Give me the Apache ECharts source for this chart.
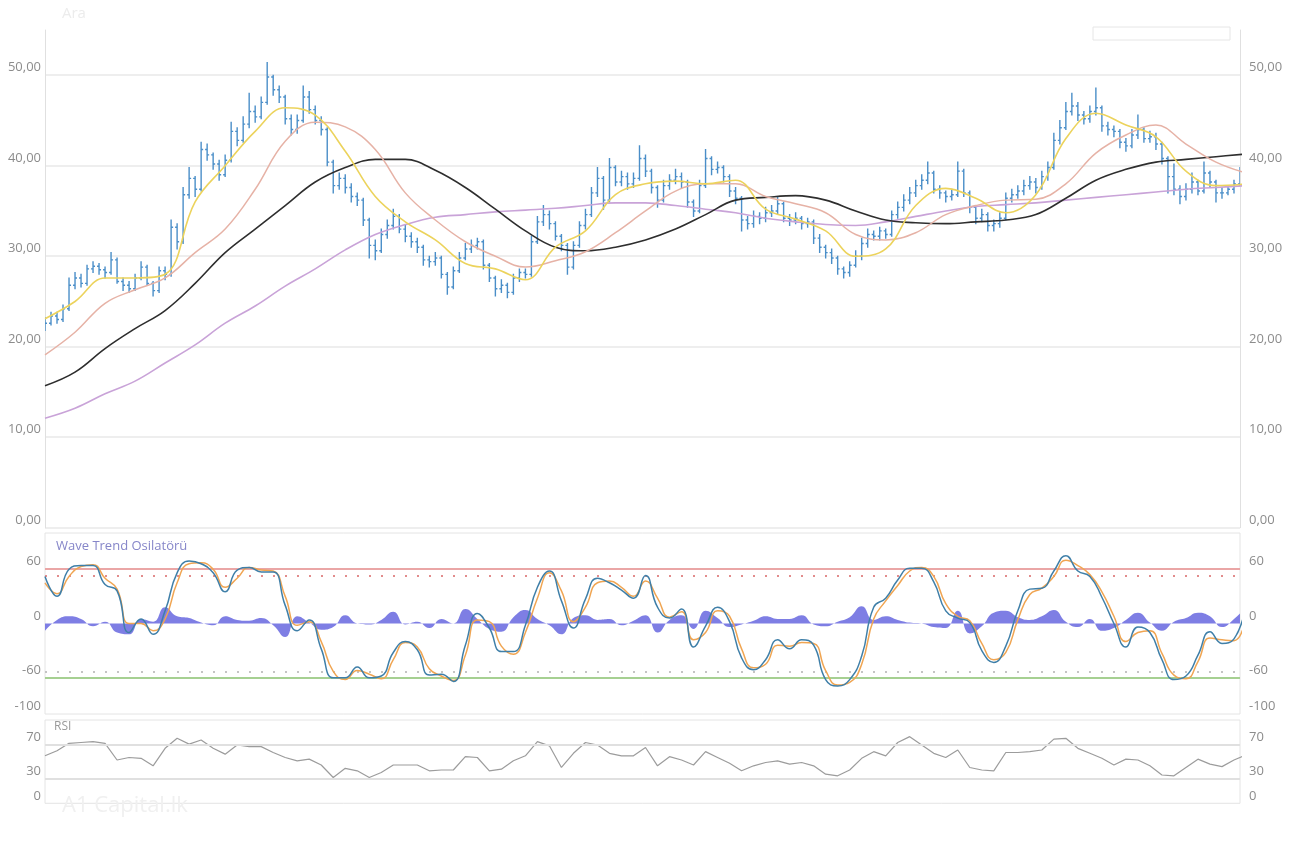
<!DOCTYPE html>
<html><head><meta charset="utf-8">
<script src="https://cdn.jsdelivr.net/npm/echarts@6/dist/echarts.min.js"></script>
<style>html,body{margin:0;padding:0;background:#fff;}#c{width:1291px;height:851px;}</style>
</head><body><div id="c"></div>
<script>
// daily bars: [open, close, low, high]
const ohlc = [
[22.2,22.6,21.8,23.2],[22.6,23.4,22.4,23.8],[23.4,23.0,22.6,23.8],[23.0,24.2,22.8,24.6],[24.2,26.8,24.0,27.6],
[26.8,27.6,26.4,28.2],[27.6,27.0,26.6,28.0],[27.0,28.6,26.8,29.0],[28.6,28.9,28.2,29.4],[28.9,28.5,28.0,29.2],
[28.5,28.2,27.6,28.8],[28.2,29.6,28.0,30.4],[29.6,27.2,27.0,29.8],[27.2,26.8,26.2,27.6],[26.8,26.4,26.0,27.2],
[26.4,27.6,26.2,28.0],[27.6,28.8,27.4,29.4],[28.8,27.0,26.8,29.0],[27.0,26.2,25.6,27.2],[26.2,28.4,26.0,28.8],
[28.4,28.0,27.4,28.8],[28.0,33.2,27.8,34.0],[33.2,31.6,30.8,33.6],[31.6,36.8,31.4,37.6],[36.8,38.6,36.4,39.8],
[38.6,37.4,36.6,38.8],[37.4,41.8,37.2,42.6],[41.8,41.2,40.6,42.4],[41.2,40.2,39.6,41.4],[40.2,39.0,38.4,40.6],
[39.0,40.6,38.8,41.2],[40.6,43.8,40.4,44.8],[43.8,42.8,42.2,44.2],[42.8,44.6,42.6,45.4],[44.6,46.0,44.2,48.0],
[46.0,45.4,44.8,46.6],[45.4,47.0,45.2,47.6],[47.0,49.8,46.8,51.4],[49.8,48.4,47.8,50.0],[48.4,47.6,47.0,48.8],
[47.6,45.2,44.6,47.8],[45.2,44.0,43.4,45.6],[44.0,45.0,43.6,45.6],[45.0,47.6,44.8,48.8],[47.6,46.2,45.8,48.2],
[46.2,45.0,44.6,46.6],[45.0,44.0,43.4,45.4],[44.0,40.4,40.0,44.2],[40.4,37.8,37.0,40.6],[37.8,38.6,37.4,39.2],
[38.6,37.6,37.0,39.0],[37.6,36.6,36.0,38.0],[36.6,36.2,35.6,37.0],[36.2,34.0,33.4,36.4],[34.0,31.2,29.8,34.2],
[31.2,30.6,29.6,31.8],[30.6,32.4,30.4,33.0],[32.4,33.4,32.0,34.0],[33.4,34.4,33.0,35.2],[34.4,33.0,32.6,34.6],
[33.0,32.2,31.6,33.4],[32.2,31.6,31.0,32.6],[31.6,31.0,30.4,32.0],[31.0,29.6,29.0,31.2],[29.6,29.4,28.8,30.0],
[29.4,29.8,29.0,30.4],[29.8,28.0,27.6,30.0],[28.0,26.6,25.8,28.2],[26.6,28.4,26.4,28.8],[28.4,29.8,28.2,30.4],
[29.8,30.8,29.6,31.4],[30.8,31.2,30.4,31.8],[31.2,31.6,30.8,32.0],[31.6,29.0,28.6,31.8],[29.0,27.6,27.2,29.2],
[27.6,26.4,25.6,27.8],[26.4,26.8,26.0,27.4],[26.8,26.0,25.4,27.0],[26.0,27.6,25.8,28.0],[27.6,28.2,27.2,28.6],
[28.2,28.0,27.6,28.6],[28.0,31.6,27.8,32.2],[31.6,33.8,31.4,34.4],[33.8,34.6,33.4,35.6],[34.6,33.6,33.0,35.0],
[33.6,32.2,31.8,33.8],[32.2,31.2,30.6,32.4],[31.2,28.8,28.0,31.4],[28.8,31.2,28.6,31.6],[31.2,33.4,31.0,33.8],
[33.4,34.6,33.0,35.2],[34.6,37.0,34.4,37.6],[37.0,38.6,36.6,39.8],[38.6,36.2,35.2,38.8],[36.2,39.8,36.0,40.8],
[39.8,38.2,37.8,40.0],[38.2,38.8,37.8,39.4],[38.8,38.0,37.4,39.2],[38.0,38.6,37.6,39.2],[38.6,40.8,38.4,42.2],
[40.8,39.4,38.8,41.2],[39.4,37.6,37.0,39.6],[37.6,36.2,35.4,37.8],[36.2,37.8,36.0,38.4],[37.8,38.4,37.4,39.0],
[38.4,38.8,38.0,39.6],[38.8,38.2,37.6,39.2],[38.2,36.0,35.4,38.4],[36.0,35.0,34.4,36.2],[35.0,37.8,34.8,38.4],
[37.8,40.8,37.6,41.8],[40.8,39.6,39.0,41.0],[39.6,39.8,39.2,40.4],[39.8,38.8,38.2,40.0],[38.8,37.2,36.6,39.0],
[37.2,36.4,35.8,37.6],[36.4,34.0,32.8,36.6],[34.0,33.6,33.0,34.4],[33.6,34.4,33.2,35.0],[34.4,34.2,33.6,34.8],
[34.2,34.8,33.8,35.4],[34.8,35.0,34.4,35.6],[35.0,35.8,34.6,36.6],[35.8,34.2,33.8,36.0],[34.2,34.0,33.4,34.6],
[34.0,34.2,33.6,34.8],[34.2,33.6,33.0,34.4],[33.6,33.8,33.2,34.2],[33.8,32.0,31.4,34.0],[32.0,31.0,30.4,32.4],
[31.0,30.4,29.8,31.2],[30.4,29.8,29.2,30.8],[29.8,28.6,28.0,30.0],[28.6,28.2,27.6,28.8],[28.2,29.0,27.8,29.4],
[29.0,30.0,28.8,30.6],[30.0,31.4,29.6,32.0],[31.4,32.4,31.0,33.0],[32.4,32.2,31.8,32.8],[32.2,32.8,31.8,33.2],
[32.8,32.4,32.0,33.0],[32.4,34.6,32.2,35.0],[34.6,35.4,34.2,36.0],[35.4,36.2,35.0,36.8],[36.2,37.0,35.8,37.6],
[37.0,37.8,36.6,38.4],[37.8,38.4,37.4,39.0],[38.4,39.2,38.0,40.4],[39.2,37.4,37.0,39.4],[37.4,37.0,36.4,37.8],
[37.0,36.6,36.0,37.2],[36.6,36.8,36.2,37.4],[36.8,39.4,36.6,40.4],[39.4,37.0,36.6,39.6],[37.0,35.4,34.8,37.2],
[35.4,34.2,33.6,35.6],[34.2,34.6,33.8,35.2],[34.6,33.4,32.8,34.8],[33.4,33.6,32.8,34.0],[33.6,34.2,33.2,34.8],
[34.2,36.4,34.0,37.0],[36.4,36.8,36.0,37.4],[36.8,37.2,36.4,37.8],[37.2,37.8,36.8,38.4],[37.8,38.2,37.4,38.8],
[38.2,37.6,37.0,38.6],[37.6,38.8,37.4,39.4],[38.8,39.8,38.4,40.4],[39.8,42.8,39.6,43.6],[42.8,44.2,42.4,45.0],
[44.2,46.0,44.0,47.0],[46.0,46.6,45.6,48.0],[46.6,45.6,45.0,47.0],[45.6,45.2,44.6,46.0],[45.2,46.0,44.8,46.6],
[46.0,46.4,45.6,48.6],[46.4,44.4,43.8,46.6],[44.4,44.0,43.4,44.8],[44.0,43.8,43.2,44.4],[43.8,42.6,42.0,44.0],
[42.6,42.2,41.6,43.0],[42.2,43.4,42.0,44.0],[43.4,44.0,43.0,45.6],[44.0,43.0,42.6,44.2],[43.0,43.2,42.6,43.8],
[43.2,42.4,41.8,43.6],[42.4,40.8,40.2,42.6],[40.8,38.8,37.0,41.0],[38.8,37.4,36.8,40.2],[37.4,36.6,35.8,37.8],
[36.6,37.4,36.2,38.0],[37.4,38.2,37.0,39.2],[38.2,37.2,36.8,38.4],[37.2,39.2,37.0,40.4],[39.2,38.2,37.6,39.4],
[38.2,37.0,36.0,38.4],[37.0,37.0,36.4,37.6],[37.0,37.4,36.8,37.8],[37.4,38.0,37.0,38.4],[38.0,39.2,37.8,39.8]
];
// moving averages, one value every maStep days
const maStep = 5;
const maYellow = [23.1,25.0,27.6,27.6,28.0,36.0,40.0,43.8,46.4,45.6,41.6,36.6,33.8,31.8,29.2,28.6,27.4,31.0,32.8,36.8,38.0,38.3,38.0,38.4,35.2,34.1,32.8,30.0,30.8,35.6,37.5,36.4,34.8,36.8,43.0,45.8,44.5,43.2,39.4,37.8,38.0];
const maPink = [19.1,21.6,24.8,26.3,27.6,30.4,33.0,37.4,42.7,44.8,44.3,41.8,37.0,34.0,31.6,30.0,28.8,29.5,30.5,32.6,35.0,37.2,38.0,38.0,36.6,35.8,34.8,32.4,31.8,32.6,34.6,35.6,36.2,36.3,38.0,41.4,43.4,44.5,42.4,40.4,39.2];
const maBlack = [15.7,17.2,19.8,22.0,24.0,27.0,30.4,33.0,35.6,38.2,39.8,40.7,40.7,39.5,37.6,35.2,32.8,31.0,30.6,31.0,31.8,33.0,34.6,36.2,36.5,36.7,36.2,35.0,34.0,33.7,33.6,33.8,34.0,34.6,36.4,38.4,39.6,40.4,40.7,41.0,41.3];
const maPurple = [12.1,13.2,14.8,16.2,18.2,20.2,22.6,24.5,26.7,28.6,30.7,32.4,33.5,34.3,34.6,34.9,35.1,35.3,35.6,35.9,35.9,35.6,35.2,34.8,34.2,33.8,33.5,33.4,33.8,34.4,35.0,35.5,35.7,35.9,36.2,36.5,36.8,37.1,37.4,37.6,37.8];
// oscillators, one value every oscStep days
const oscStep = 2;
const wt1 = [52,30,60,64,64,43,36,-10,5,-12,14,56,69,66,56,35,59,62,57,57,20,-8,4,-28,-60,-60,-48,-60,-58,-32,-20,-29,-57,-56,-64,-24,11,-5,-31,-31,-2,40,58,25,-5,27,50,45,37,28,53,18,6,16,-26,-3,18,2,-38,-51,-40,-18,-28,-18,-24,-62,-69,-62,-36,18,28,48,61,61,46,14,6,1,-30,-43,-25,14,38,39,58,75,58,52,29,0,-26,-4,-10,-40,-62,-58,-35,-9,-22,-17,20];
const wt2 = [45,33,52,63,65,50,38,0,0,-8,5,45,66,67,60,40,50,62,59,58,30,-2,2,-20,-53,-62,-52,-56,-61,-40,-21,-26,-50,-58,-63,-35,4,2,-25,-34,-10,28,56,36,2,18,45,47,40,30,47,28,7,13,-18,-10,14,8,-28,-49,-45,-24,-25,-21,-22,-52,-68,-65,-45,5,25,42,58,62,52,22,8,3,-22,-40,-32,4,32,39,52,70,64,54,35,8,-20,-10,-8,-33,-57,-61,-42,-16,-18,-19,8];
const wtHist = [-8,4,8,5,-3,2,-10,-12,5,2,18,8,6,1,-2,8,4,3,6,-2,-15,8,1,-7,-4,9,0,-1,4,13,-1,2,-5,5,0,16,5,-6,-9,7,15,5,-2,-12,6,9,4,5,-2,3,9,-10,4,9,-6,14,6,-4,-1,3,8,5,5,9,-1,-3,2,7,19,4,8,4,1,0,-4,-5,14,-11,-3,12,14,7,4,8,15,2,-4,5,-8,-5,4,12,1,-8,2,6,12,8,-4,5,18];
const rsi = [57,63,72,73,74,72,52,55,54,45,66,78,71,76,66,59,70,68,68,61,55,51,53,46,31,42,39,31,37,46,46,46,39,40,40,56,55,39,41,51,57,74,69,43,60,73,70,60,57,57,67,45,56,52,46,62,55,48,39,45,49,51,47,49,45,35,33,40,54,62,57,73,80,70,60,55,64,43,40,39,61,61,62,64,77,78,66,60,54,46,53,52,45,34,33,43,53,47,44,52,58];
// axis ticks and levels
const priceTicks = [0,10,20,30,40,50];
const wtTicks = [60,0,-60,-100];
const rsiTicks = [70,30,0];
const wtLevels = [60,53,-53,-60];
const rsiLevels = [70,30];

const lastDay = ohlc.length - 1;
const bars = ohlc.map((q,i)=>[i,q[0],q[1],q[2],q[3]]);
const stepped = (arr, step) => arr.map((v,i)=>[i*step, v]);

const chart = echarts.init(document.getElementById('c'), null, {renderer:'canvas'});
const lblColor = '#8c8c8c';
const FONT = '"Open Sans", "DejaVu Sans", sans-serif';
const priceFmt = v => priceTicks.includes(v) ? v.toFixed(2).replace('.', ',') : '';
const pick = list => v => list.includes(v) ? String(v) : '';
const BAR = '#4a8ec8';

function renderOhlc(params, api) {
  const x = api.value(0);
  const o = api.coord([x, api.value(1)]);
  const c = api.coord([x, api.value(2)]);
  const l = api.coord([x, api.value(3)]);
  const h = api.coord([x, api.value(4)]);
  const st = {stroke: BAR, lineWidth: 1.4};
  return {type:'group', children:[
    {type:'line', shape:{x1:l[0], y1:l[1]+0.5, x2:h[0], y2:h[1]-0.5}, style:st},
    {type:'line', shape:{x1:o[0]-2, y1:o[1], x2:o[0], y2:o[1]}, style:st},
    {type:'line', shape:{x1:c[0], y1:c[1], x2:c[0]+2, y2:c[1]}, style:st}
  ]};
}

function yAx(grid, pos, min, max, interval, fmt, opts) {
  return Object.assign({
    gridIndex: grid, type: 'value', position: pos, min, max, interval,
    axisTick: {show:false},
    axisLine: {show:false},
    splitLine: {show:false},
    axisLabel: {formatter: fmt, color: lblColor, fontSize: 13, fontFamily: FONT,
      verticalAlign: 'bottom', margin: pos === 'left' ? 4 : 9, padding: [0,0,1,0]}
  }, opts || {});
}
const xAx = g => ({gridIndex:g, type:'value', min:0, max:lastDay, show:false});
const lvlLine = (y, color, type) => ({yAxis: y, lineStyle: {color, width: 2, type}});

const option = {
  animation: false,
  backgroundColor: '#fff',
  grid: [
    {left:45, right:51, top:30, height:497.7},
    {left:45, right:51, top:533, height:181, show:true, borderColor:'#e4e4e4', borderWidth:1},
    {left:45, right:51, top:720, height:83.3, show:true, borderColor:'#e4e4e4', borderWidth:1}
  ],
  xAxis: [xAx(0), xAx(1), xAx(2)],
  yAxis: [
    yAx(0,'left',0,55,10,priceFmt,{axisLine:{show:true,lineStyle:{color:'#e0e0e0'}},
      splitLine:{show:true,showMaxLine:false,lineStyle:{color:'#e8e8e8',width:1.5}}}),
    yAx(0,'right',0,55,10,priceFmt,{axisLine:{show:true,lineStyle:{color:'#e0e0e0'}}}),
    yAx(1,'left',-100,100,20,pick(wtTicks)),
    yAx(1,'right',-100,100,20,pick(wtTicks)),
    yAx(2,'left',0,100,10,pick(rsiTicks)),
    yAx(2,'right',0,100,10,pick(rsiTicks))
  ],
  graphic: [
    {type:'text', left:56, top:540, style:{text:'Wave Trend Osilatörü', fill:'#8686c9', font:'13px '+FONT}},
    {type:'text', left:54, top:721, style:{text:'RSI', fill:'#9a9a9a', font:'12px '+FONT}},
    {type:'text', left:62, top:6, style:{text:'Ara', fill:'#ececec', font:'15px '+FONT}},
    {type:'rect', shape:{x:1093,y:27,width:137,height:13}, style:{fill:'none', stroke:'#e6e6e6'}},
    {type:'text', left:62, top:795, style:{text:'A1 Capital.lk', fill:'#f0f0f0', font:'22px '+FONT}}
  ],
  series: [
    {type:'custom', xAxisIndex:0, yAxisIndex:0, data:bars, encode:{x:0, y:[1,2,3,4]}, renderItem:renderOhlc, clip:true},
    {type:'line', xAxisIndex:0, yAxisIndex:0, data:stepped(maPurple,maStep), smooth:0.4, showSymbol:false, lineStyle:{color:'#c9a3d8', width:1.6}},
    {type:'line', xAxisIndex:0, yAxisIndex:0, data:stepped(maBlack,maStep), smooth:0.4, showSymbol:false, lineStyle:{color:'#2e2e2e', width:1.6}},
    {type:'line', xAxisIndex:0, yAxisIndex:0, data:stepped(maPink,maStep), smooth:0.4, showSymbol:false, lineStyle:{color:'#e6b2a6', width:1.5}},
    {type:'line', xAxisIndex:0, yAxisIndex:0, data:stepped(maYellow,maStep), smooth:0.4, showSymbol:false, lineStyle:{color:'#ecd35c', width:1.6}},
    {type:'line', xAxisIndex:1, yAxisIndex:2, data:stepped(wtHist,oscStep), smooth:0.5, showSymbol:false,
      lineStyle:{width:0}, areaStyle:{color:'#7e7ee4', opacity:1, origin:0}},
    {type:'line', xAxisIndex:1, yAxisIndex:2, data:stepped(wt2,oscStep), smooth:0.5, showSymbol:false, lineStyle:{color:'#f0a552', width:1.5}},
    {type:'line', xAxisIndex:1, yAxisIndex:2, data:stepped(wt1,oscStep), smooth:0.5, showSymbol:false, lineStyle:{color:'#3f7fa8', width:1.5},
      markLine:{silent:true, symbol:['none','none'], label:{show:false}, z:1,
        data:[lvlLine(wtLevels[0],'#eaa6a6','solid'), lvlLine(wtLevels[1],'#e28c8c',[2,10]),
              lvlLine(wtLevels[2],'#c4c4c4',[2,10]), lvlLine(wtLevels[3],'#a6d092','solid')]}},
    {type:'line', xAxisIndex:2, yAxisIndex:4, data:stepped(rsi,oscStep), showSymbol:false, lineStyle:{color:'#9c9c9c', width:1.2},
      markLine:{silent:true, symbol:['none','none'], label:{show:false},
        data: rsiLevels.map(v=>lvlLine(v,'#e0e0e0','solid'))}}
  ]
};
chart.setOption(option);
</script>
</body></html>
